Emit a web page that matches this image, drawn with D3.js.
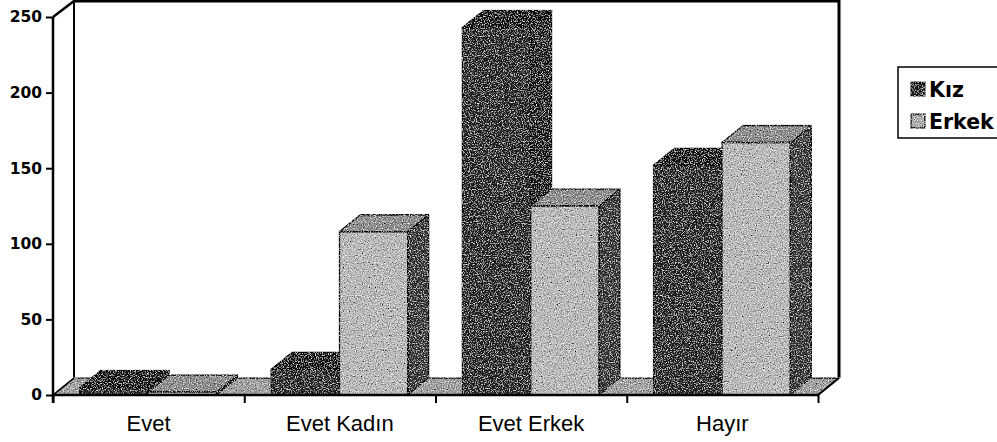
<!DOCTYPE html>
<html>
<head>
<meta charset="utf-8">
<script src="https://cdn.jsdelivr.net/npm/d3@7/dist/d3.min.js"></script>
<style>
  html, body { margin: 0; padding: 0; background: #fff; }
  svg { display: block; }
</style>
</head>
<body>
<svg id="chart" width="997" height="442"></svg>
<script>
// ---- data ----
const categories = ["Evet", "Evet Kadın", "Evet Erkek", "Hayır"];
const series = ["Kız", "Erkek"];
const kizValues = [5, 17, 243, 152];
const erkekValues = [2, 108, 125, 167];
const yTickValues = [0, 50, 100, 150, 200, 250];

// ---- layout ----
const W = 997, H = 442;
const plotLeft = 53, plotRight = 818, plotBase = 395, plotTop = 17;
const DX = 21, DY = -17;

const svg = d3.select("#chart");
const defs = svg.append("defs");
const f = defs.append("filter").attr("id", "grain")
  .attr("filterUnits", "userSpaceOnUse")
  .attr("x", 0).attr("y", 0).attr("width", W).attr("height", H);
f.append("feTurbulence").attr("type", "fractalNoise").attr("baseFrequency", 0.85)
  .attr("numOctaves", 2).attr("seed", 4).attr("result", "noise");
f.append("feColorMatrix").attr("in", "noise").attr("type", "matrix")
  .attr("values", "0.33 0.33 0.33 0 0  0.33 0.33 0.33 0 0  0.33 0.33 0.33 0 0  0 0 0 0 1")
  .attr("result", "gnoise");
const ct = f.append("feComponentTransfer").attr("in", "gnoise").attr("result", "cnoise");
["feFuncR", "feFuncG", "feFuncB"].forEach(t => ct.append(t).attr("type", "linear").attr("slope", 2.2).attr("intercept", -0.6));
f.append("feBlend").attr("in", "SourceGraphic").attr("in2", "cnoise").attr("mode", "overlay").attr("result", "bl");
f.append("feComposite").attr("in", "bl").attr("in2", "SourceAlpha").attr("operator", "in");

const x = d3.scaleBand().domain(categories).range([plotLeft, plotRight]).paddingInner(0).paddingOuter(0);
const bw = x.bandwidth();
const inner = d3.scaleBand().domain(series).range([0.14 * bw, 0.855 * bw]).paddingInner(0);
const y = d3.scaleLinear().domain([0, 250]).range([plotBase, plotTop]);

const colors = {
  "Kız":   { front: "#222222", top: "#0e0e0e", side: "#161616" },
  "Erkek": { front: "#bdbdbd", top: "#8c8c8c", side: "#333333" }
};

// ---- walls ----
const wall = svg.append("g");
wall.append("rect").attr("x", plotLeft + DX).attr("y", y(250) + DY)
  .attr("width", plotRight - plotLeft).attr("height", plotBase - y(250))
  .attr("fill", "#fff").attr("stroke", "none");
wall.append("line").attr("x1", plotLeft + DX).attr("x2", plotLeft + DX)
  .attr("y1", y(250) + DY).attr("y2", plotBase + DY)
  .attr("stroke", "#000").attr("stroke-width", 2);
wall.append("line").attr("x1", plotLeft + DX).attr("x2", plotRight + DX + 1)
  .attr("y1", y(250) + DY + 1).attr("y2", y(250) + DY + 1)
  .attr("stroke", "#000").attr("stroke-width", 3);
wall.append("line").attr("x1", plotRight + DX).attr("x2", plotRight + DX)
  .attr("y1", y(250) + DY).attr("y2", plotBase + DY)
  .attr("stroke", "#000").attr("stroke-width", 3);
wall.append("line").attr("x1", plotLeft).attr("y1", y(250))
  .attr("x2", plotLeft + DX).attr("y2", y(250) + DY + 1)
  .attr("stroke", "#000").attr("stroke-width", 2.5);

// ---- floor ----
svg.append("polygon")
  .attr("points", [[plotLeft, plotBase], [plotRight, plotBase], [plotRight + DX, plotBase + DY], [plotLeft + DX, plotBase + DY]].map(p => p.join(",")).join(" "))
  .attr("fill", "#a2a2a2").attr("stroke", "#000").attr("stroke-width", 1.5)
  .attr("filter", "url(#grain)");

// ---- bars ----
const data = categories.map((c, i) => ({ cat: c, vals: [{ s: "Kız", v: kizValues[i] }, { s: "Erkek", v: erkekValues[i] }] }));
const barsG = svg.append("g").attr("filter", "url(#grain)");
data.forEach(d => {
  d.vals.forEach(b => {
    const xl = x(d.cat) + inner(b.s);
    const xr = xl + inner.bandwidth();
    const yt = y(b.v), yb = y(0);
    const g = barsG.append("g").attr("stroke", "#000").attr("stroke-width", 1.5).attr("stroke-linejoin", "round");
    g.append("polygon")
      .attr("points", [[xr, yt], [xr + DX, yt + DY], [xr + DX, yb + DY], [xr, yb]].map(p => p.join(",")).join(" "))
      .attr("fill", colors[b.s].side);
    g.append("polygon")
      .attr("points", [[xl, yt], [xl + DX, yt + DY], [xr + DX, yt + DY], [xr, yt]].map(p => p.join(",")).join(" "))
      .attr("fill", colors[b.s].top);
    g.append("rect").attr("x", xl).attr("y", yt).attr("width", xr - xl).attr("height", yb - yt)
      .attr("fill", colors[b.s].front);
  });
});

// ---- axes ----
const yAxis = d3.axisLeft(y).tickValues(yTickValues).tickSize(7).tickPadding(4).tickFormat(d3.format("d"));
const yg = svg.append("g").attr("transform", `translate(${plotLeft},0)`).call(yAxis);
yg.select(".domain").attr("stroke-width", 2.5).attr("d", `M0,${y(250)}V${plotBase + 8}`);
yg.selectAll(".tick line").attr("stroke-width", 2);
yg.selectAll(".tick text").attr("font-family", "DejaVu Sans, sans-serif").attr("font-weight", "bold")
  .attr("font-size", 15.5).attr("fill", "#000");

svg.append("line").attr("x1", plotLeft).attr("x2", plotRight).attr("y1", plotBase).attr("y2", plotBase)
  .attr("stroke", "#000").attr("stroke-width", 2.5);
svg.append("line").attr("x1", plotRight).attr("y1", plotBase).attr("x2", plotRight + DX).attr("y2", plotBase + DY)
  .attr("stroke", "#000").attr("stroke-width", 2);
svg.append("line").attr("x1", plotLeft).attr("y1", plotBase).attr("x2", plotLeft + DX).attr("y2", plotBase + DY)
  .attr("stroke", "#000").attr("stroke-width", 1.5);

const xb = d3.scaleLinear().domain([0, categories.length]).range([plotLeft, plotRight]);
const xtg = svg.append("g").attr("transform", `translate(0,${plotBase})`)
  .call(d3.axisBottom(xb).tickValues(d3.range(0, categories.length + 1)).tickSize(8).tickFormat(""));
xtg.select(".domain").remove();
xtg.selectAll(".tick line").attr("stroke-width", 2);

const xg = svg.append("g").attr("transform", `translate(0,${plotBase})`)
  .call(d3.axisBottom(x).tickSize(0).tickPadding(20));
xg.select(".domain").remove();
xg.selectAll(".tick text").attr("font-family", "Liberation Sans, Arial, sans-serif")
  .attr("font-size", 22).attr("fill", "#000").attr("dy", "0.71em");

// ---- legend ----
const lg = svg.append("g");
lg.append("rect").attr("x", 898).attr("y", 67).attr("width", 120).attr("height", 71)
  .attr("fill", "#fff").attr("stroke", "#000").attr("stroke-width", 1.5);
const legendColors = { "Kız": "#1a1a1a", "Erkek": "#b0b0b0" };
series.forEach((s, i) => {
  const yy = 82 + i * 32;
  lg.append("rect").attr("x", 911).attr("y", yy).attr("width", 14).attr("height", 14)
    .attr("fill", legendColors[s]).attr("stroke", "#000").attr("stroke-width", 1.5)
    .attr("filter", "url(#grain)");
  lg.append("text").attr("x", 929).attr("y", yy + 15).text(s)
    .attr("font-family", "DejaVu Sans, sans-serif").attr("font-weight", "bold")
    .attr("font-size", 20.5).attr("fill", "#000");
});
</script>
</body>
</html>
